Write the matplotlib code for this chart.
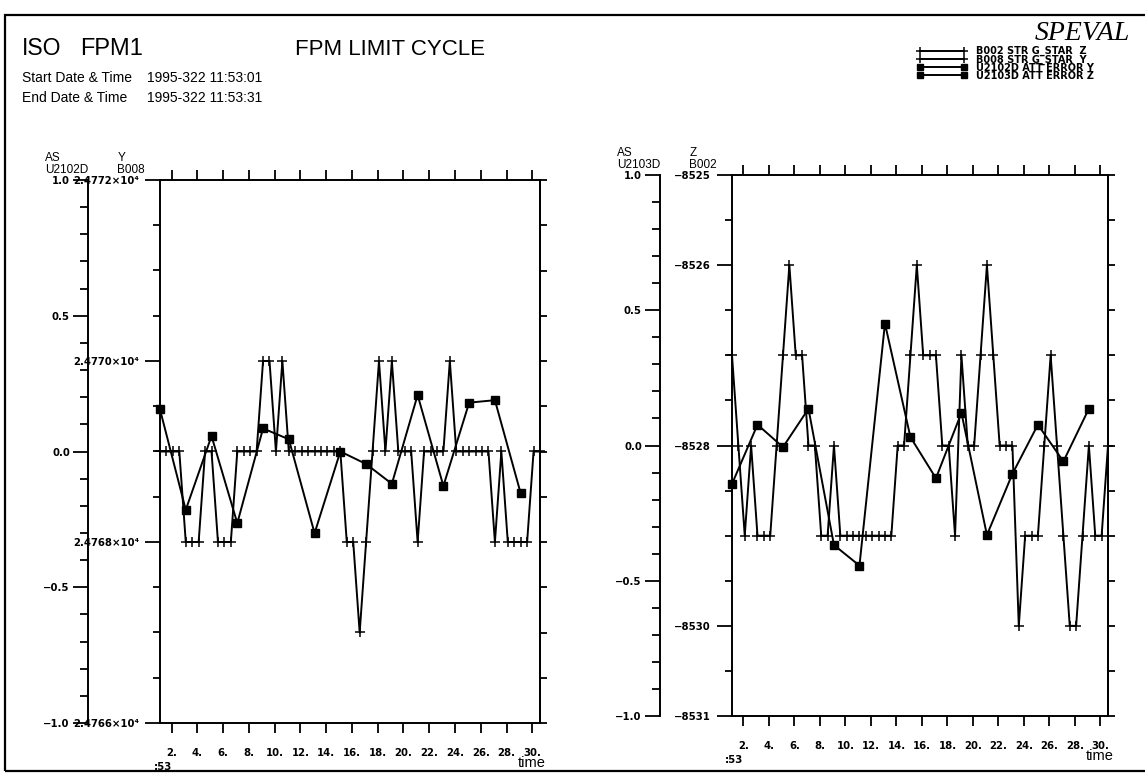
import numpy as np
import matplotlib
matplotlib.use('Agg')
import matplotlib.pyplot as plt
from matplotlib.ticker import MultipleLocator, NullFormatter
from matplotlib.patches import Rectangle

W, H = 1145, 777
plt.rcParams['font.family'] = ['Liberation Sans', 'DejaVu Sans']

# ---------------- data ----------------
# star tracker samples every 0.5 s (seconds after 11:53:00)
t_fast = np.round(np.arange(1.1, 30.61, 0.5), 2)
# attitude error samples every 2 s
t_slow = [1.1, 3.1, 5.1, 7.1, 9.1, 11.1, 13.1, 15.1, 17.1, 19.1, 21.1, 23.1, 25.1, 27.1, 29.1]

b008_y = [24769, 24769, 24769, 24769, 24768, 24768, 24768, 24769, 24769, 24768,
          24768, 24768, 24769, 24769, 24769, 24769, 24770, 24770, 24769, 24770,
          24769, 24769, 24769, 24769, 24769, 24769, 24769, 24769, 24769, 24768,
          24768, 24767, 24768, 24769, 24770, 24769, 24770, 24769, 24769, 24769,
          24768, 24769, 24769, 24769, 24769, 24770, 24769, 24769, 24769, 24769,
          24769, 24769, 24768, 24769, 24768, 24768, 24768, 24768, 24769, 24769]

b002_z = [-8527, -8528, -8529, -8528, -8529, -8529, -8529, -8528, -8527, -8526,
          -8527, -8527, -8528, -8528, -8529, -8529, -8528, -8529, -8529, -8529,
          -8529, -8529, -8529, -8529, -8529, -8529, -8528, -8528, -8527, -8526,
          -8527, -8527, -8527, -8528, -8528, -8529, -8527, -8528, -8528, -8527,
          -8526, -8527, -8528, -8528, -8528, -8530, -8529, -8529, -8529, -8528,
          -8527, -8528, -8529, -8530, -8530, -8529, -8528, -8529, -8529, -8528]

u2102d_y = [0.155, -0.215, 0.057, -0.264, 0.085, 0.045, -0.301, 0.0, -0.046,
            -0.119, 0.208, -0.127, 0.180, 0.189, -0.154]
u2103d_z = [-0.142, 0.077, -0.006, 0.136, -0.368, -0.444, 0.451, 0.031, -0.121,
            0.121, -0.331, -0.105, 0.077, -0.059, 0.136]

x_ticks = [2, 4, 6, 8, 10, 12, 14, 16, 18, 20, 22, 24, 26, 28, 30]
x_lim = (1.1, 30.6)
outer_ticks = [-1.0, -0.5, 0.0, 0.5, 1.0]
left_inner_lim = (24766, 24772)
left_inner_ticks = [24766, 24768, 24770, 24772]
right_inner_lim = (-8531, -8525)
right_inner_ticks = [-8531, -8530, -8528, -8526, -8525]

legend_labels = ['B002 STR G_STAR  Z', 'B008 STR G_STAR  Y',
                 'U2102D ATT ERROR Y', 'U2103D ATT ERROR Z']

# ---------------- figure ----------------
fig = plt.figure(figsize=(W / 100, H / 100), dpi=100)
PX2PT = 0.72
TICKFONT = dict(family='DejaVu Sans', weight='bold', size=7.3)


def fx(x):
    return x / W


def fy(y):
    return 1 - y / H


def style_labels(labels):
    for lab in labels:
        lab.set_fontfamily('DejaVu Sans')
        lab.set_fontweight('bold')
        lab.set_fontsize(7.3)


def panel(rect, b_vals, b_lim, b_ticks, b_fmt, u_vals):
    l, t, r, b = rect
    ax = fig.add_axes([fx(l), fy(b), (r - l) / W, (b - t) / H])
    ax.set_facecolor('none')
    for s in ax.spines.values():
        s.set_linewidth(1.4)
    line_b, = ax.plot(t_fast, b_vals, color='black', lw=1.4, marker='+',
                      ms=6.5, mew=1.1, clip_on=False)
    ax.set_xlim(*x_lim)
    ax.set_ylim(*b_lim)
    ax.set_yticks(b_ticks, [b_fmt(v) for v in b_ticks])
    ax.yaxis.set_minor_locator(MultipleLocator(0.5))
    ax.tick_params(axis='y', which='major', direction='out', length=11, width=1.3, pad=4)
    ax.tick_params(axis='y', which='minor', direction='out', length=5, width=1.3)
    ax.set_xticks(x_ticks, [f"{v}." for v in x_ticks])
    ax.tick_params(axis='x', which='major', direction='out', length=7, width=1.3,
                   top=True, bottom=True, labeltop=False, pad=11)
    style_labels(ax.get_xticklabels() + ax.get_yticklabels())

    sec = ax.secondary_yaxis('right')
    sec.yaxis.set_major_locator(MultipleLocator(0.5))
    sec.yaxis.set_major_formatter(NullFormatter())
    sec.tick_params(direction='out', length=5, width=1.3)
    sec.spines['right'].set_linewidth(1.4)

    ox = ax.twinx()
    ox.set_facecolor('none')
    line_u, = ox.plot(t_slow, u_vals, color='black', lw=1.4, marker='s', ms=5.5,
                      mfc='black', mec='black', clip_on=False)
    ox.set_ylim(-1, 1)
    for side in ['right', 'top', 'bottom']:
        ox.spines[side].set_visible(False)
    ox.spines['left'].set_visible(True)
    ox.spines['left'].set_linewidth(1.4)
    ox.spines['left'].set_position(('outward', 72 * PX2PT))
    ox.yaxis.set_ticks_position('left')
    ox.yaxis.set_label_position('left')
    ox.set_yticks(outer_ticks, [f"{v:.1f}".replace('-', '\u2212') for v in outer_ticks])
    ox.yaxis.set_minor_locator(MultipleLocator(0.1))
    ox.tick_params(axis='y', which='major', direction='out', length=11, width=1.3, pad=2)
    ox.tick_params(axis='y', which='minor', direction='out', length=5.5, width=1.3)
    style_labels(ox.get_yticklabels())

    # ":53" minute mark under the first label and the axis name "time"
    ax.annotate(':53', xy=(x_ticks[0], 0), xycoords=('data', 'axes fraction'),
                xytext=(-9, -44), textcoords='offset pixels', ha='center', va='center',
                **TICKFONT)
    ax.annotate('time', xy=(x_ticks[-1], 0), xycoords=('data', 'axes fraction'),
                xytext=(-1, -40), textcoords='offset pixels', ha='center', va='center',
                family='Liberation Sans', size=10.5)
    return ax, ox, line_b, line_u


axL, oxL, l_b008, l_u2102 = panel(
    (160, 180, 540, 723), b008_y, left_inner_lim, left_inner_ticks,
    lambda v: f"{v / 1e4:.4f}\u00d710\u2074", u2102d_y)
axR, oxR, l_b002, l_u2103 = panel(
    (732, 175, 1108, 716), b002_z, right_inner_lim, right_inner_ticks,
    lambda v: f"\u2212{abs(v)}", u2103d_z)

# axis names above the y axes
NAMEFONT = dict(family='Liberation Sans', size=8.5)
for (ox_x, in_x, top_y, uname, bname, comp) in [
        (88, 160, 180, 'U2102D', 'B008', 'Y'),
        (660, 732, 175, 'U2103D', 'B002', 'Z')]:
    fig.text(fx(ox_x - 43), fy(top_y - 7), uname, ha='left', va='baseline', **NAMEFONT)
    fig.text(fx(ox_x - 43), fy(top_y - 19), 'AS', ha='left', va='baseline', **NAMEFONT)
    fig.text(fx(in_x - 43), fy(top_y - 7), bname, ha='left', va='baseline', **NAMEFONT)
    fig.text(fx(in_x - 42), fy(top_y - 19), comp, ha='left', va='baseline', **NAMEFONT)

# header
fig.text(fx(22), fy(55), 'ISO', size=16.5, va='baseline')
fig.text(fx(80), fy(55), 'FPM1', size=17, va='baseline')
fig.text(fx(295), fy(55), 'FPM LIMIT CYCLE', size=16, va='baseline')
fig.text(fx(22), fy(82), 'Start Date & Time', size=10, va='baseline')
fig.text(fx(147), fy(82), '1995-322 11:53:01', size=10, va='baseline')
fig.text(fx(22), fy(102), 'End Date & Time', size=10, va='baseline')
fig.text(fx(147), fy(102), '1995-322 11:53:31', size=10, va='baseline')
fig.text(fx(1035), fy(40.5), 'SPEVAL', family='Liberation Serif', style='italic',
         size=20, va='baseline')

# legend
leg = fig.legend(handles=[l_b002, l_b008, l_u2102, l_u2103], labels=legend_labels,
                 loc='upper left', bbox_to_anchor=(fx(917), fy(46)), frameon=False,
                 prop=dict(family='DejaVu Sans', weight='bold', size=7),
                 handlelength=5.1, handletextpad=1.0, labelspacing=-0.2,
                 borderpad=0, borderaxespad=0, numpoints=2, markerscale=0.8)

# page frame
fig.add_artist(Rectangle((fx(5), fy(771)), (1152 - 5) / W, (771 - 15) / H,
                         transform=fig.transFigure, fill=False, lw=1.6, color='black'))

fig.savefig('out.png', dpi=100)
